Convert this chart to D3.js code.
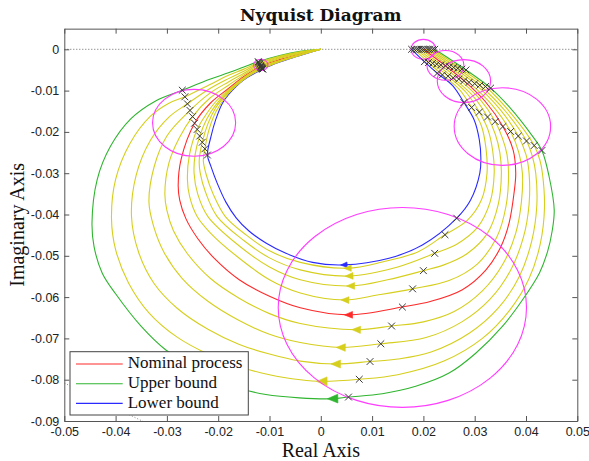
<!DOCTYPE html>
<html><head><meta charset="utf-8">
<script src="https://cdn.jsdelivr.net/npm/d3@7"></script>
<style>body{margin:0;background:#fff}svg{display:block}</style>
</head><body>
<svg id="chart" width="589" height="461"></svg>
<script>
// Frequency responses [re, im, tag]; tag 1 = marked frequency (cross), tag 2 = direction arrow.
const lowerBound = [[0.0177,0,1],[0.0202,-0.0030,1],[0.0227,-0.0058,1],[0.0257,-0.0088],[0.0279,-0.0129,1],[0.0299,-0.0171],[0.0309,-0.0219],[0.0312,-0.0263],[0.0310,-0.0300],[0.0292,-0.0365],[0.0265,-0.0409,1],[0.0198,-0.0474],[0.0133,-0.0506],[0.0045,-0.0522,2],[-0.0016,-0.0516],[-0.0068,-0.0494],[-0.0107,-0.0469],[-0.0140,-0.0440],[-0.0165,-0.0408],[-0.0185,-0.0370],[-0.0202,-0.0324],[-0.0214,-0.0284],[-0.0221,-0.0256,1],[-0.0214,-0.0211],[-0.0205,-0.0171],[-0.0192,-0.0131],[-0.0180,-0.0110],[-0.0150,-0.0074],[-0.0113,-0.0048,1],[-0.0080,-0.0031],[-0.0045,-0.0017],[0,0]];
const nominal = [[0.0200,0,1],[0.0243,-0.0040,1],[0.0279,-0.0076,1],[0.0321,-0.0127],[0.0355,-0.0187,1],[0.0375,-0.0244],[0.0380,-0.0300],[0.0377,-0.0345],[0.0367,-0.0421],[0.0351,-0.0478],[0.0322,-0.0534],[0.0276,-0.0582],[0.0215,-0.0610],[0.0159,-0.0624,1],[0.0054,-0.0643,2],[-0.0040,-0.0626],[-0.0100,-0.0598],[-0.0159,-0.0558],[-0.0207,-0.0507],[-0.0240,-0.0458],[-0.0263,-0.0410],[-0.0275,-0.0365],[-0.0278,-0.0330],[-0.0272,-0.0265],[-0.0246,-0.0179,1],[-0.0215,-0.0130],[-0.0180,-0.0095],[-0.0150,-0.0066],[-0.0117,-0.0041,1],[-0.0080,-0.0025],[-0.0045,-0.0013],[0,0]];
const upperBound = [[0.0222,0,1],[0.0283,-0.0050,1],[0.0331,-0.0094,1],[0.0367,-0.0139],[0.0413,-0.0211],[0.0431,-0.0245,1],[0.0445,-0.0308],[0.0455,-0.0389],[0.0451,-0.0440],[0.0442,-0.0490],[0.0426,-0.0542],[0.0393,-0.0607],[0.0354,-0.0671],[0.0302,-0.0736],[0.0250,-0.0784],[0.0185,-0.0816],[0.0120,-0.0834],[0.0054,-0.0842,1],[0.0023,-0.0846,2],[-0.0042,-0.0844],[-0.0107,-0.0836],[-0.0160,-0.0820],[-0.0225,-0.0785],[-0.0302,-0.0728],[-0.0350,-0.0671],[-0.0400,-0.0592],[-0.0426,-0.0542],[-0.0442,-0.0478],[-0.0446,-0.0420],[-0.0436,-0.0316],[-0.0410,-0.0235],[-0.0370,-0.0168],[-0.0322,-0.0125],[-0.0270,-0.0099,1],[-0.0215,-0.0072],[-0.0180,-0.0057],[-0.0150,-0.0043],[-0.0122,-0.0030,1],[-0.0080,-0.0015],[-0.0040,-0.0005],[0,0]];
const intermediate = [
  [[0.0182,0,1],[0.0210,-0.0032,1],[0.0237,-0.0062,1],[0.0270,-0.0097],[0.0294,-0.0141,1],[0.0313,-0.0185],[0.0322,-0.0240],[0.0324,-0.0300],[0.0313,-0.0365],[0.0285,-0.0415],[0.0242,-0.0449,1],[0.0190,-0.0490],[0.0120,-0.0515],[0.0052,-0.0530,2],[-0.0040,-0.0516],[-0.0100,-0.0488],[-0.0145,-0.0450],[-0.0186,-0.0405],[-0.0210,-0.0350],[-0.0223,-0.0305],[-0.0229,-0.0270],[-0.0226,-0.0241,1],[-0.0218,-0.0195],[-0.0204,-0.0150],[-0.0180,-0.0107],[-0.0150,-0.0073],[-0.0114,-0.0047,1],[-0.0080,-0.0030],[-0.0045,-0.0016],[0,0]],
  [[0.0187,0,1],[0.0218,-0.0034,1],[0.0248,-0.0065,1],[0.0283,-0.0104],[0.0309,-0.0152,1],[0.0326,-0.0195],[0.0335,-0.0245],[0.0338,-0.0300],[0.0330,-0.0370],[0.0305,-0.0432],[0.0265,-0.0472],[0.0222,-0.0494,1],[0.0150,-0.0527],[0.0055,-0.0549,2],[-0.0040,-0.0534],[-0.0100,-0.0505],[-0.0150,-0.0463],[-0.0202,-0.0405],[-0.0225,-0.0345],[-0.0235,-0.0300],[-0.0237,-0.0270],[-0.0231,-0.0225,1],[-0.0220,-0.0180],[-0.0205,-0.0142],[-0.0180,-0.0104],[-0.0150,-0.0071],[-0.0115,-0.0046,1],[-0.0080,-0.0029],[-0.0045,-0.0016],[0,0]],
  [[0.0191,0,1],[0.0226,-0.0036,1],[0.0258,-0.0069,1],[0.0296,-0.0112],[0.0325,-0.0164,1],[0.0340,-0.0205],[0.0349,-0.0250],[0.0352,-0.0300],[0.0346,-0.0375],[0.0325,-0.0445],[0.0285,-0.0495],[0.0240,-0.0522],[0.0200,-0.0536,1],[0.0130,-0.0558],[0.0058,-0.0573,2],[-0.0040,-0.0558],[-0.0100,-0.0527],[-0.0160,-0.0475],[-0.0220,-0.0405],[-0.0240,-0.0350],[-0.0247,-0.0300],[-0.0245,-0.0255],[-0.0236,-0.0210,1],[-0.0222,-0.0168],[-0.0205,-0.0135],[-0.0180,-0.0101],[-0.0150,-0.0070],[-0.0116,-0.0044,1],[-0.0080,-0.0028],[-0.0045,-0.0015],[0,0]],
  [[0.0196,0,1],[0.0234,-0.0038,1],[0.0269,-0.0072,1],[0.0309,-0.0119],[0.0340,-0.0175,1],[0.0354,-0.0215],[0.0363,-0.0255],[0.0366,-0.0300],[0.0361,-0.0380],[0.0343,-0.0455],[0.0305,-0.0520],[0.0250,-0.0560],[0.0179,-0.0580,1],[0.0110,-0.0595],[0.0047,-0.0607,2],[-0.0040,-0.0590],[-0.0100,-0.0558],[-0.0165,-0.0500],[-0.0215,-0.0445],[-0.0241,-0.0405],[-0.0256,-0.0355],[-0.0260,-0.0315],[-0.0256,-0.0255],[-0.0241,-0.0194,1],[-0.0222,-0.0155],[-0.0205,-0.0127],[-0.0180,-0.0098],[-0.0150,-0.0068],[-0.0117,-0.0043,1],[-0.0080,-0.0027],[-0.0045,-0.0014],[0,0]],
  [[0.0204,0,1],[0.0251,-0.0042,1],[0.0289,-0.0080,1],[0.0334,-0.0135],[0.0370,-0.0199,1],[0.0386,-0.0250],[0.0393,-0.0300],[0.0391,-0.0370],[0.0380,-0.0445],[0.0355,-0.0520],[0.0315,-0.0585],[0.0260,-0.0635],[0.0200,-0.0660],[0.0138,-0.0670,1],[0.0069,-0.0679,2],[-0.0040,-0.0664],[-0.0100,-0.0640],[-0.0160,-0.0602],[-0.0215,-0.0555],[-0.0260,-0.0495],[-0.0287,-0.0440],[-0.0300,-0.0390],[-0.0304,-0.0350],[-0.0296,-0.0275],[-0.0276,-0.0215],[-0.0250,-0.0163,1],[-0.0216,-0.0118],[-0.0180,-0.0087],[-0.0150,-0.0062],[-0.0118,-0.0039,1],[-0.0080,-0.0022],[-0.0045,-0.0011],[0,0]],
  [[0.0209,0,1],[0.0259,-0.0044,1],[0.0300,-0.0083,1],[0.0347,-0.0142],[0.0385,-0.0210,1],[0.0400,-0.0255],[0.0406,-0.0300],[0.0406,-0.0375],[0.0395,-0.0455],[0.0370,-0.0535],[0.0330,-0.0605],[0.0275,-0.0660],[0.0205,-0.0698],[0.0117,-0.0713,1],[0.0039,-0.0722,2],[-0.0040,-0.0710],[-0.0100,-0.0690],[-0.0160,-0.0656],[-0.0220,-0.0610],[-0.0270,-0.0555],[-0.0305,-0.0493],[-0.0326,-0.0428],[-0.0335,-0.0370],[-0.0325,-0.0285],[-0.0300,-0.0210],[-0.0255,-0.0148,1],[-0.0216,-0.0106],[-0.0180,-0.0079],[-0.0150,-0.0058],[-0.0119,-0.0036,1],[-0.0080,-0.0020],[-0.0045,-0.0009],[0,0]],
  [[0.0213,0,1],[0.0267,-0.0046,1],[0.0310,-0.0087,1],[0.0360,-0.0150],[0.0401,-0.0222,1],[0.0413,-0.0262],[0.0419,-0.0300],[0.0421,-0.0380],[0.0411,-0.0465],[0.0387,-0.0550],[0.0347,-0.0625],[0.0290,-0.0687],[0.0215,-0.0733],[0.0150,-0.0750],[0.0096,-0.0756,1],[0.0029,-0.0762,2],[-0.0040,-0.0755],[-0.0100,-0.0738],[-0.0160,-0.0714],[-0.0220,-0.0678],[-0.0280,-0.0627],[-0.0325,-0.0567],[-0.0355,-0.0492],[-0.0369,-0.0405],[-0.0360,-0.0305],[-0.0332,-0.0220],[-0.0295,-0.0163],[-0.0260,-0.0132,1],[-0.0216,-0.0095],[-0.0180,-0.0071],[-0.0150,-0.0053],[-0.0120,-0.0034,1],[-0.0080,-0.0018],[-0.0045,-0.0008],[0,0]],
  [[0.0218,0,1],[0.0275,-0.0048,1],[0.0321,-0.0090,1],[0.0372,-0.0157],[0.0416,-0.0233,1],[0.0427,-0.0268],[0.0432,-0.0300],[0.0436,-0.0385],[0.0428,-0.0470],[0.0406,-0.0555],[0.0368,-0.0632],[0.0315,-0.0700],[0.0240,-0.0755],[0.0150,-0.0788],[0.0075,-0.0799,1],[0.0002,-0.0804,2],[-0.0040,-0.0800],[-0.0100,-0.0788],[-0.0160,-0.0768],[-0.0220,-0.0738],[-0.0280,-0.0697],[-0.0335,-0.0638],[-0.0375,-0.0565],[-0.0400,-0.0485],[-0.0408,-0.0410],[-0.0400,-0.0315],[-0.0372,-0.0228],[-0.0332,-0.0162],[-0.0297,-0.0131],[-0.0265,-0.0115,1],[-0.0216,-0.0085],[-0.0180,-0.0063],[-0.0150,-0.0048],[-0.0121,-0.0032,1],[-0.0080,-0.0016],[-0.0045,-0.0007],[0,0]]
];

// Uncertainty discs at the marked frequencies: centre [re, im] and radius.
const discCenters = [[0.0200,0.0000],[0.0243,-0.0039],[0.0279,-0.0077],[0.0354,-0.0187],[0.0159,-0.0625],[-0.0247,-0.0178],[-0.0117,-0.0038]];
const discRadii = [0.0024,0.0036,0.0052,0.0094,0.0242,0.0081,0.0014];

// Dotted guide segment in the lower-left corner.
const guideLine = [[-0.0505,-0.0805],[-0.0340,-0.0905]];

const xTicks = [-0.05,-0.04,-0.03,-0.02,-0.01,0,0.01,0.02,0.03,0.04,0.05];
const xTickLabels = ["-0.05","-0.04","-0.03","-0.02","-0.01","0","0.01","0.02","0.03","0.04","0.05"];
const yTicks = [0,-0.01,-0.02,-0.03,-0.04,-0.05,-0.06,-0.07,-0.08,-0.09];
const yTickLabels = ["0","-0.01","-0.02","-0.03","-0.04","-0.05","-0.06","-0.07","-0.08","-0.09"];

const legendLabels = ["Nominal process","Upper bound","Lower bound"];

const COL = {red:"#ff2a2a", green:"#2fb52f", blue:"#2a2aff", yellow:"#d6cf1e", magenta:"#ff3cff", cross:"#3a3a3a", axis:"#555"};

const svg = d3.select("#chart");
const L = 64.3, R = 577.3, T = 28.65, B = 421;
const x = d3.scaleLinear().domain([-0.05,0.05]).range([L,R]);
const y = d3.scaleLinear().domain([-0.09,0.005]).range([B,T]);

svg.append("rect").attr("width",589).attr("height",461).attr("fill","#fff");

const plot = svg.append("g");
plot.append("defs").append("clipPath").attr("id","clip")
  .append("rect").attr("x",L).attr("y",T).attr("width",R-L).attr("height",B-T);
const inner = plot.append("g").attr("clip-path","url(#clip)");

// zero line of the imaginary axis
inner.append("line").attr("x1",x(-0.05)).attr("x2",x(0.05)).attr("y1",y(0)).attr("y2",y(0))
  .attr("stroke","#666").attr("stroke-width",1).attr("stroke-dasharray","1,2");
inner.append("path").attr("d",d3.line().x(d=>x(d[0])).y(d=>y(d[1]))(guideLine))
  .attr("stroke","#888").attr("stroke-width",1).attr("stroke-dasharray","1,2").attr("fill","none");

const line = d3.line().x(d=>x(d[0])).y(d=>y(d[1])).curve(d3.curveCatmullRom.alpha(0.5));

const series = [
  {pts:nominal, color:COL.red, size:8},
  {pts:upperBound, color:COL.green, size:10.5},
  {pts:lowerBound, color:COL.blue, size:6.5},
  ...intermediate.map((p,i)=>({pts:p, color:COL.yellow, size:[7.5,8,8,8,8.5,9,9.5,10.5][i]}))
];

series.forEach(s=>{
  inner.append("path").attr("d",line(s.pts)).attr("fill","none")
    .attr("stroke",s.color).attr("stroke-width",1.1);
});

// direction arrows, oriented along the curve at the tagged point
series.forEach(s=>{
  const i = s.pts.findIndex(p=>p[2]===2);
  if(i<0) return;
  const a = s.pts[i-1], b = s.pts[i+1], p = s.pts[i];
  const dx = x(b[0])-x(a[0]), dy = y(b[1])-y(a[1]);
  const ang = Math.atan2(dy,dx)*180/Math.PI;
  const l = s.size, w = s.size*0.42;
  inner.append("path")
    .attr("d",`M${l/2},0L${-l/2},${-w}L${-l/2},${w}Z`)
    .attr("transform",`translate(${x(p[0])},${y(p[1])}) rotate(${ang})`)
    .attr("fill",s.color).attr("stroke",s.color).attr("stroke-width",0.6);
});

// uncertainty discs
discCenters.forEach((c,i)=>{
  const r = discRadii[i];
  inner.append("ellipse").attr("cx",x(c[0])).attr("cy",y(c[1]))
    .attr("rx",x(r)-x(0)).attr("ry",y(0)-y(r))
    .attr("fill","none").attr("stroke",COL.magenta).attr("stroke-width",1.1);
});

// frequency markers
const cs = 3.4;
series.forEach(s=>{
  s.pts.filter(p=>p[2]===1).forEach(p=>{
    inner.append("path")
      .attr("d",`M${-cs},${-cs}L${cs},${cs}M${-cs},${cs}L${cs},${-cs}`)
      .attr("transform",`translate(${x(p[0])},${y(p[1])})`)
      .attr("stroke",COL.cross).attr("stroke-width",1).attr("fill","none");
  });
});

// axes (ticks drawn inward on all four sides)
const tickFont = "'Liberation Sans', Arial, sans-serif";
const axB = d3.axisBottom(x).tickValues(xTicks).tickFormat((d,i)=>xTickLabels[i]).tickSizeInner(-5).tickSizeOuter(0).tickPadding(6);
const axT = d3.axisTop(x).tickValues(xTicks).tickFormat("").tickSizeInner(-5).tickSizeOuter(0);
const axLft = d3.axisLeft(y).tickValues(yTicks).tickFormat((d,i)=>yTickLabels[i]).tickSizeInner(-5).tickSizeOuter(0).tickPadding(5);
const axRt = d3.axisRight(y).tickValues(yTicks).tickFormat("").tickSizeInner(-5).tickSizeOuter(0);

function style(g){
  g.select(".domain").attr("stroke",COL.axis);
  g.selectAll(".tick line").attr("stroke",COL.axis);
  g.selectAll("text").attr("fill","#222").style("font-family",tickFont).style("font-size","12.5px");
}
svg.append("g").attr("transform",`translate(0,${B})`).call(axB).call(style);
svg.append("g").attr("transform",`translate(0,${T})`).call(axT).call(style);
svg.append("g").attr("transform",`translate(${L},0)`).call(axLft).call(style);
svg.append("g").attr("transform",`translate(${R},0)`).call(axRt).call(style);

// titles
svg.append("text").attr("x",(L+R)/2).attr("y",21).attr("text-anchor","middle")
  .style("font-family","'DejaVu Serif', serif").style("font-weight","bold").style("font-size","17px")
  .attr("fill","#111").text("Nyquist Diagram");
svg.append("text").attr("x",(L+R)/2).attr("y",456.5).attr("text-anchor","middle")
  .style("font-family","'Liberation Serif', serif").style("font-size","20px")
  .attr("fill","#111").text("Real Axis");
svg.append("text").attr("transform",`translate(24,${(T+B)/2}) rotate(-90)`).attr("text-anchor","middle")
  .style("font-family","'Liberation Serif', serif").style("font-size","20px")
  .attr("fill","#111").text("Imaginary Axis");

// legend
const lg = svg.append("g");
lg.append("rect").attr("x",70).attr("y",351.7).attr("width",178.3).attr("height",63.3)
  .attr("fill","#fff").attr("stroke","#444").attr("stroke-width",1);
const legendColors = [COL.red, COL.green, COL.blue];
legendLabels.forEach((t,i)=>{
  const yy = 364 + i*19.7;
  lg.append("line").attr("x1",76).attr("x2",122.7).attr("y1",yy).attr("y2",yy)
    .attr("stroke",legendColors[i]).attr("stroke-width",1.1);
  lg.append("text").attr("x",127.7).attr("y",yy+4.3)
    .style("font-family","'Liberation Serif', serif").style("font-size","17px")
    .attr("fill","#111").text(t);
});
</script>
</body></html>
